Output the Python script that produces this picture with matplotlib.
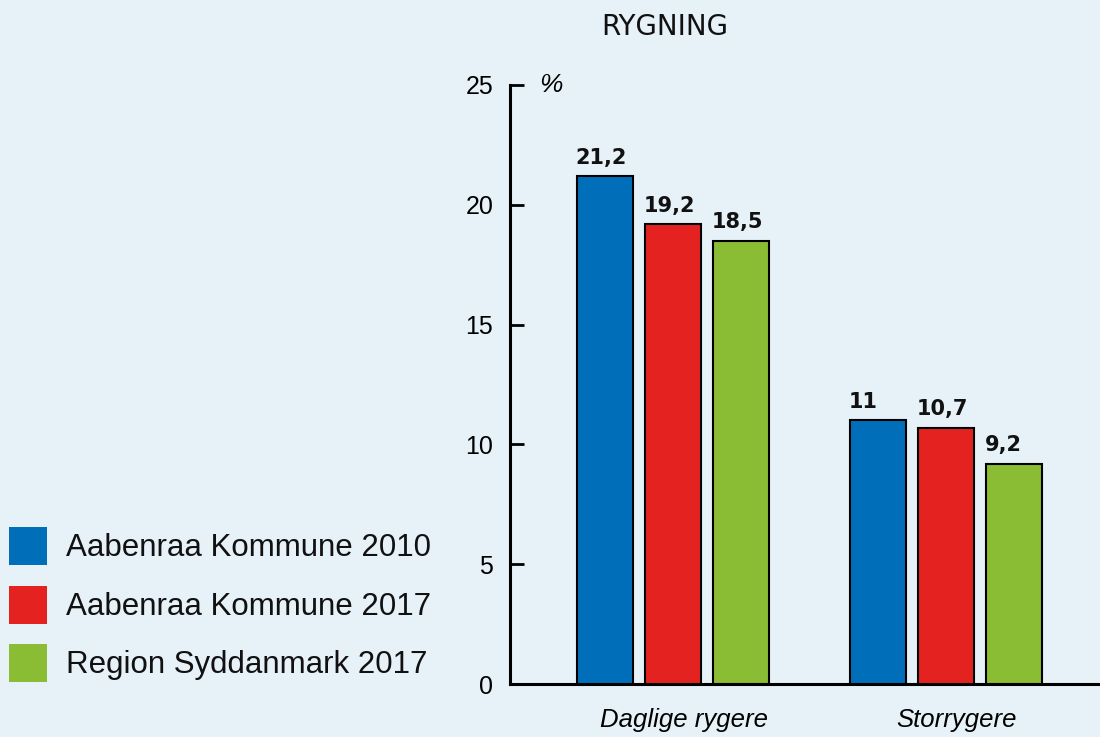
import matplotlib
matplotlib.use("Agg")

import matplotlib.pyplot as plt
import numpy as np
from matplotlib.patches import Rectangle

# ── data ─────────────────────────────────────────────────────────
categories = ["Daglige rygere", "Storrygere"]
series_names = ["Aabenraa Kommune 2010", "Aabenraa Kommune 2017",
                "Region Syddanmark 2017"]
values = [
    [21.2, 11.0],
    [19.2, 10.7],
    [18.5, 9.2],
]
value_labels = [
    ["21,2", "11"],
    ["19,2", "10,7"],
    ["18,5", "9,2"],
]
yticks = [0, 5, 10, 15, 20, 25]

# ── style ────────────────────────────────────────────────────────
BG = "#e6f1f8"
colors = ["#006eb9", "#e42320", "#8abd34"]
W, H = 1100, 737

fig = plt.figure(figsize=(11, 7.37), dpi=100, facecolor=BG)
ax = fig.add_axes([510 / W, 1 - 684 / H, 1 - 510 / W, (684 - 85) / H])
ax.set_facecolor(BG)

x = np.arange(len(categories))
bar_w = 56 / 273
step = 68 / 273
for i, (name, vals) in enumerate(zip(series_names, values)):
    pos = x + (i - 1) * step
    ax.bar(pos, vals, width=bar_w, color=colors[i], edgecolor="black",
           linewidth=1.5, zorder=3)
    for p, v, lab in zip(pos, vals, value_labels[i]):
        ax.text(p - bar_w / 2 - 0.005, v + 0.35, lab, ha="left", va="bottom",
                fontsize=15, fontweight="bold", family="DejaVu Sans",
                color="#111111")

ax.set_xlim((510 - 673) / 273, (1100 - 673) / 273)
ax.set_ylim(0, 25)
ax.set_yticks(yticks)
ax.set_yticklabels([str(t) for t in yticks], fontsize=18,
                   family="Liberation Sans")
ax.tick_params(axis="y", direction="in", length=10, width=2, pad=12)
ax.set_xticks(x + 0.04)
ax.set_xticklabels(categories, fontsize=18.5, style="italic",
                   family="Liberation Sans")
ax.tick_params(axis="x", length=0, pad=17)

for s in ["top", "right"]:
    ax.spines[s].set_visible(False)
for s in ["left", "bottom"]:
    ax.spines[s].set_linewidth(2.2)

ax.text(0.05, 1.0, "%", transform=ax.transAxes, fontsize=19,
        style="italic", family="Liberation Sans", ha="left", va="center")

fig.text(665 / W, 1 - 27 / H, "RYGNING", fontsize=20, family="DejaVu Sans",
         ha="center", va="center", color="#111111")

# ── legend ───────────────────────────────────────────────────────
sq = 38
tops = [527, 586, 644]
for name, c, t in zip(series_names, colors, tops):
    fig.add_artist(Rectangle((9 / W, 1 - (t + sq) / H), sq / W, sq / H,
                             transform=fig.transFigure, facecolor=c,
                             edgecolor="none"))
    fig.text(66 / W, 1 - (t + sq / 2 + 2) / H, name, fontsize=22.5,
             family="Liberation Sans", ha="left", va="center",
             color="#111111")

fig.savefig("out.png", dpi=100, facecolor=BG)
